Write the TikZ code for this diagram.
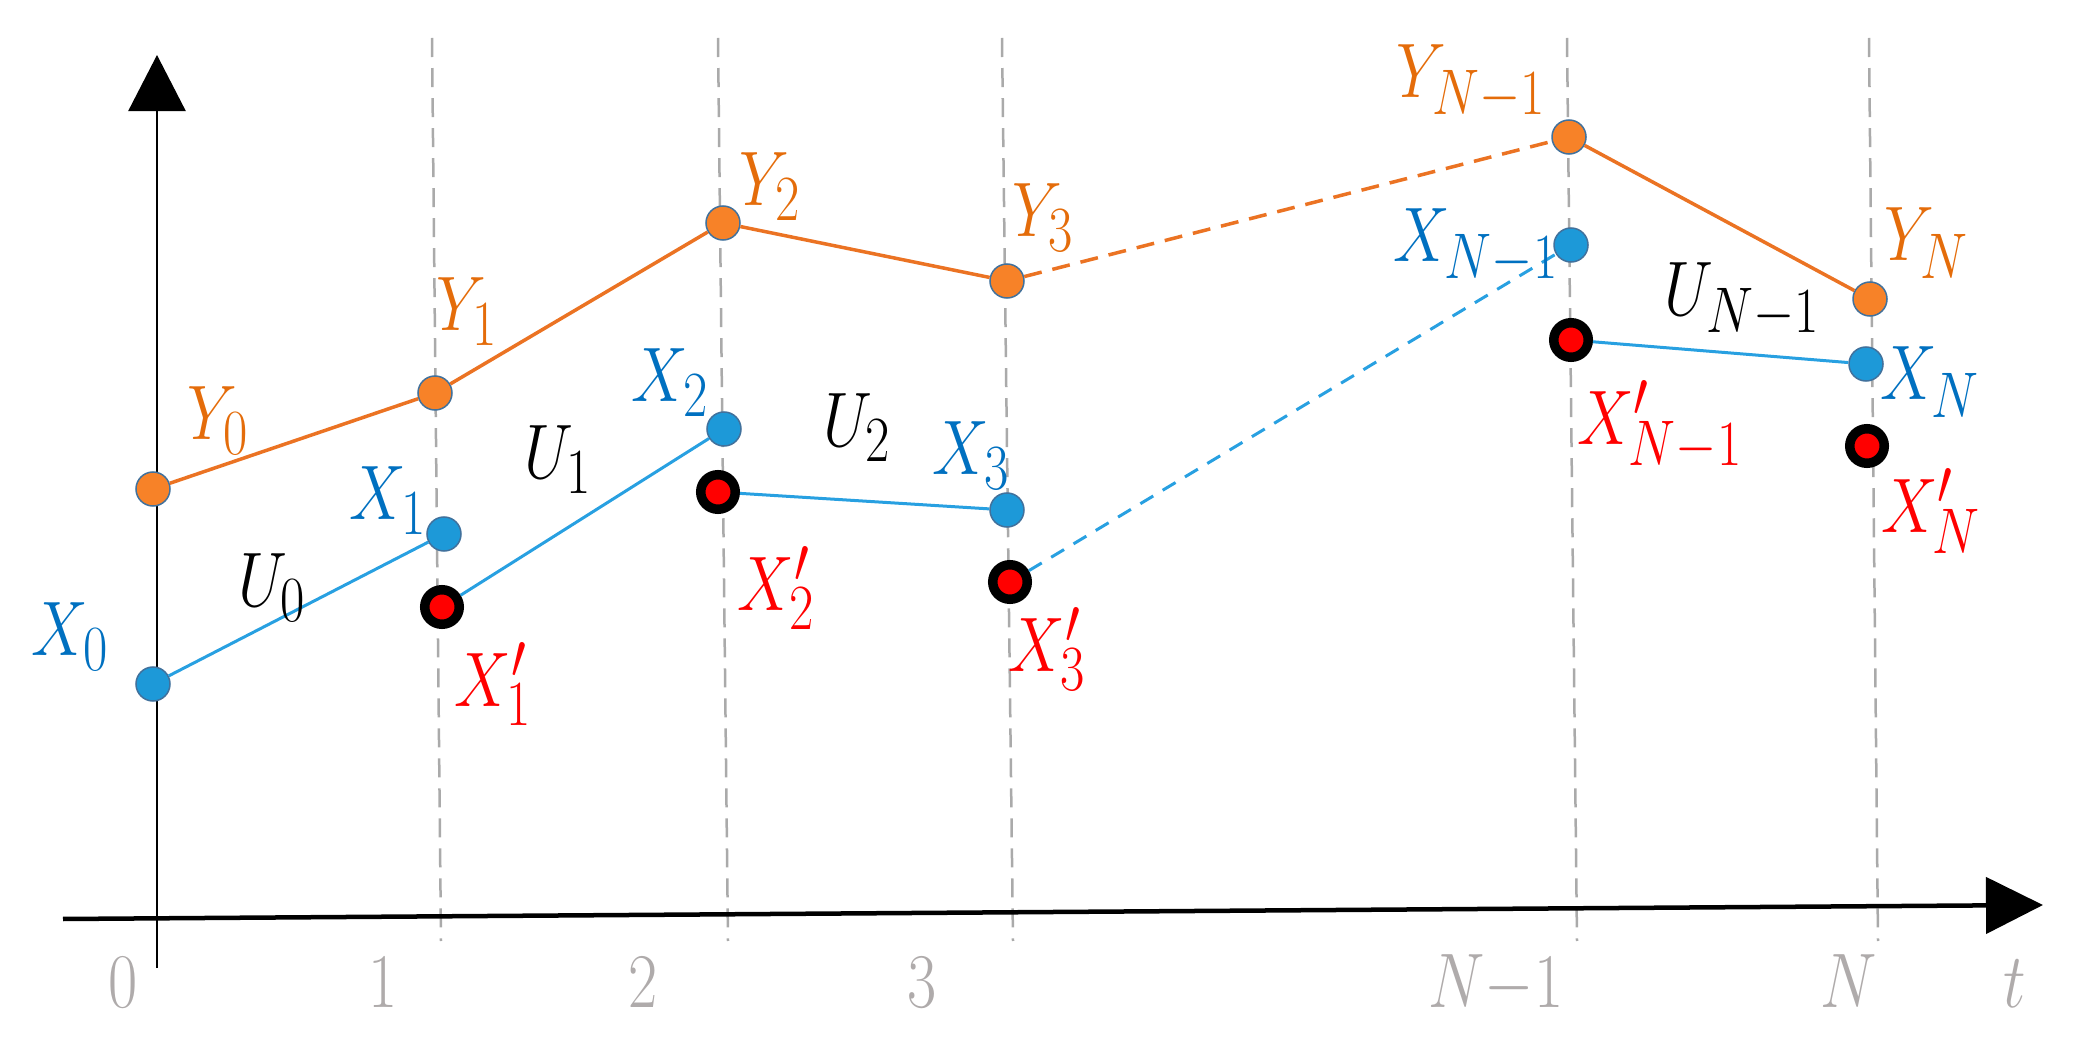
\documentclass[tikz,border=0pt]{standalone}
\usetikzlibrary{arrows.meta}
\definecolor{dotor}{RGB}{247,130,40}
\definecolor{lineor}{RGB}{235,115,35}
\definecolor{textor}{RGB}{228,108,10}
\definecolor{dotbl}{RGB}{29,153,216}
\definecolor{linebl}{RGB}{40,160,225}
\definecolor{textbl}{RGB}{0,112,192}
\definecolor{rimbl}{RGB}{65,113,156}
\definecolor{gridg}{RGB}{170,170,170}
\definecolor{tickg}{RGB}{175,171,171}
\begin{document}
\begin{tikzpicture}[x=0.01cm,y=-0.01cm,
  odot/.style={circle,fill=dotor,draw=rimbl,line width=0.015cm,inner sep=0pt,minimum size=0.34cm},
  bdot/.style={circle,fill=dotbl,draw=rimbl,line width=0.015cm,inner sep=0pt,minimum size=0.34cm},
  rdot/.style={circle,fill=red,draw=black,line width=0.095cm,inner sep=0pt,minimum size=0.345cm},
  lab/.style={font=\Huge,inner sep=0pt,xscale=0.725,yscale=0.884},
  ylab/.style={lab,text=textor},
  xlab/.style={lab,text=textbl},
  xplab/.style={lab,text=red},
  ulab/.style={lab,text=black},
  ticklab/.style={lab,text=tickg,anchor=base},
  gridline/.style={draw=gridg,line width=0.025cm,dash pattern=on 0.19cm off 0.11cm},
  oline/.style={draw=lineor,line width=0.035cm},
  bline/.style={draw=linebl,line width=0.03cm},
  odash/.style={oline,dash pattern=on 0.18cm off 0.11cm},
  bdash/.style={bline,dash pattern=on 0.15cm off 0.11cm}
]
\useasboundingbox (0,0) rectangle (2075,1052);

% grid lines
\coordinate (g1t) at (432,38);  \coordinate (g1b) at (441,941);
\coordinate (g2t) at (718,38);  \coordinate (g2b) at (728,941);
\coordinate (g3t) at (1002,38); \coordinate (g3b) at (1013,941);
\coordinate (g4t) at (1567,38); \coordinate (g4b) at (1577,941);
\coordinate (g5t) at (1869,38); \coordinate (g5b) at (1878,941);
\foreach \i in {1,...,5} {\draw[gridline] (g\i t) -- (g\i b);}

% axes
\coordinate (ya0) at (157,968); \coordinate (ya1) at (157,55);
\coordinate (xa0) at (63,919);  \coordinate (xa1) at (2043,905);
\draw[line width=0.025cm,-{Triangle[length=0.56cm,width=0.57cm]}] (ya0) -- (ya1);
\draw[line width=0.045cm,-{Triangle[length=0.57cm,width=0.56cm]}] (xa0) -- (xa1);

% dots
\node[odot] (Y0) at (153,489) {};
\node[odot] (Y1) at (435,393) {};
\node[odot] (Y2) at (723,223) {};
\node[odot] (Y3) at (1007,281) {};
\node[odot] (YN1) at (1569,137) {};
\node[odot] (YN) at (1870,299) {};
\node[bdot] (X0) at (153,684) {};
\node[bdot] (X1) at (444,534) {};
\node[bdot] (X2) at (724,429) {};
\node[bdot] (X3) at (1007,510) {};
\node[bdot] (XN1) at (1571,245) {};
\node[bdot] (XN) at (1866,364) {};
\node[rdot] (X1p) at (442,607) {};
\node[rdot] (X2p) at (718,492) {};
\node[rdot] (X3p) at (1010,582) {};
\node[rdot] (XN1p) at (1571,340) {};
\node[rdot] (XNp) at (1867,446) {};

% connectors
\draw[oline] (Y0) -- (Y1);
\draw[oline] (Y1) -- (Y2);
\draw[oline] (Y2) -- (Y3);
\draw[odash] (Y3) -- (YN1);
\draw[oline] (YN1) -- (YN);
\draw[bline] (X0) -- (X1);
\draw[bline] (X1p) -- (X2);
\draw[bline] (X2p) -- (X3);
\draw[bdash] (X3p) -- (XN1);
\draw[bline] (XN1p) -- (XN);

% labels
\node[ylab] (lY0) at (218,421) {$Y_0$};
\node[ylab] (lY1) at (467,312) {$Y_1$};
\node[ylab] (lY2) at (770,187) {$Y_2$};
\node[ylab] (lY3) at (1043,218) {$Y_3$};
\node[ylab] (lYN1) at (1471,82) {$Y_{N-1}$};
\node[ylab] (lYN) at (1927,243) {$Y_N$};
\node[xlab] (lX0) at (70,637) {$X_0$};
\node[xlab] (lX1) at (388,501) {$X_1$};
\node[xlab] (lX2) at (670,383) {$X_2$};
\node[xlab] (lX3) at (971,456) {$X_3$};
\node[xlab] (lXN1) at (1476,246) {$X_{N-1}$};
\node[xlab] (lXN) at (1930,382) {$X_N$};
\node[xplab] (lX1p) at (493,684) {$X'_1$};
\node[xplab] (lX2p) at (776,588) {$X'_2$};
\node[xplab] (lX3p) at (1047,649) {$X'_3$};
\node[xplab] (lXN1p) at (1660,426) {$X'_{N-1}$};
\node[xplab] (lXNp) at (1931,511) {$X'_N$};
\node[ulab] (lU0) at (272,588) {$U_0$};
\node[ulab] (lU1) at (558,460) {$U_1$};
\node[ulab] (lU2) at (857,428) {$U_2$};
\node[ulab] (lUN1) at (1742,300) {$U_{N-1}$};

% tick labels
\node[ticklab] (t0) at (123,1007) {$0$};
\node[ticklab] (t1) at (383,1007) {$1$};
\node[ticklab] (t2) at (643,1007) {$2$};
\node[ticklab] (t3) at (922,1007) {$3$};
\node[ticklab] (tN1) at (1496,1007) {$N{-}1$};
\node[ticklab] (tN) at (1849,1007) {$N$};
\node[ticklab] (tt) at (2015,1007) {$t$};
\end{tikzpicture}
\end{document}
